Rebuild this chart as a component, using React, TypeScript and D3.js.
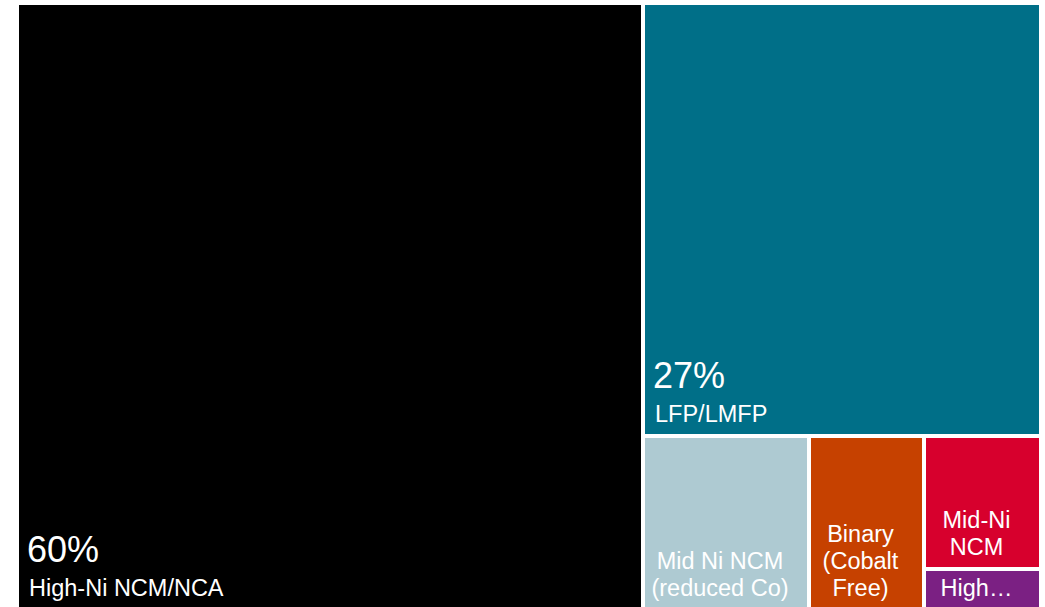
import React from "react";
import * as d3 from "d3";

const names = [
  "High-Ni NCM/NCA",
  "LFP/LMFP",
  "Mid Ni NCM (reduced Co)",
  "Binary (Cobalt Free)",
  "Mid-Ni NCM",
  "High…",
];
const shares = [60, 27.2, 4.55, 3.15, 2.45, 0.75];
const percentLabels = ["60%", "27%", "", "", "", ""];
const labelLines = [
  ["High-Ni NCM/NCA"],
  ["LFP/LMFP"],
  ["Mid Ni NCM", "(reduced Co)"],
  ["Binary", "(Cobalt", "Free)"],
  ["Mid-Ni", "NCM"],
  ["High…"],
];
const colors = ["#000000", "#006F88", "#AECAD2", "#C64100", "#D7002D", "#7B2083"];

const W = 1045;
const H = 607;
const left = 19;
const top = 5;
const innerW = 1020;
const innerH = 603;
const font = "'Liberation Sans', Arial, Helvetica, sans-serif";

export default function App() {
  const data = names.map((n, i) => ({ name: n, value: shares[i], idx: i }));
  const root = d3
    .hierarchy<any>({ name: "root", children: data })
    .sum((d: any) => d.value || 0)
    .sort((a, b) => (b.value || 0) - (a.value || 0));
  d3.treemap<any>()
    .tile(d3.treemapSquarify.ratio(1))
    .size([innerW, innerH])
    .paddingInner(4)
    .round(true)(root);
  const leaves = root.leaves() as any[];

  return (
    <svg
      width={W}
      height={H}
      style={{ position: "absolute", left: 0, top: 0, display: "block" }}
    >
      <rect x={0} y={0} width={W} height={H} fill="#ffffff" />
      <g transform={`translate(${left},${top})`}>
        {leaves.map((lf) => {
          const i = lf.data.idx;
          const x0 = lf.x0, x1 = lf.x1, y0 = lf.y0, y1 = lf.y1;
          const lines = labelLines[i];
          const big = percentLabels[i] !== "";
          const lastBase = y1 - 12;
          return (
            <g key={i}>
              <rect x={x0} y={y0} width={x1 - x0} height={y1 - y0} fill={colors[i]} />
              {big ? (
                <g fill="#ffffff" fontFamily={font}>
                  <text x={x0 + 8} y={lastBase - 34} fontSize={36}>
                    {percentLabels[i]}
                  </text>
                  <text x={x0 + 10} y={lastBase} fontSize={23.5}>
                    {lines[0]}
                  </text>
                </g>
              ) : (
                <g fill="#ffffff" fontFamily={font} fontSize={23.5} textAnchor="middle">
                  {lines.map((ln, k) => (
                    <text
                      key={k}
                      x={(x0 + x1) / 2 - 6}
                      y={lastBase - (lines.length - 1 - k) * 27}
                    >
                      {ln}
                    </text>
                  ))}
                </g>
              )}
            </g>
          );
        })}
      </g>
    </svg>
  );
}
